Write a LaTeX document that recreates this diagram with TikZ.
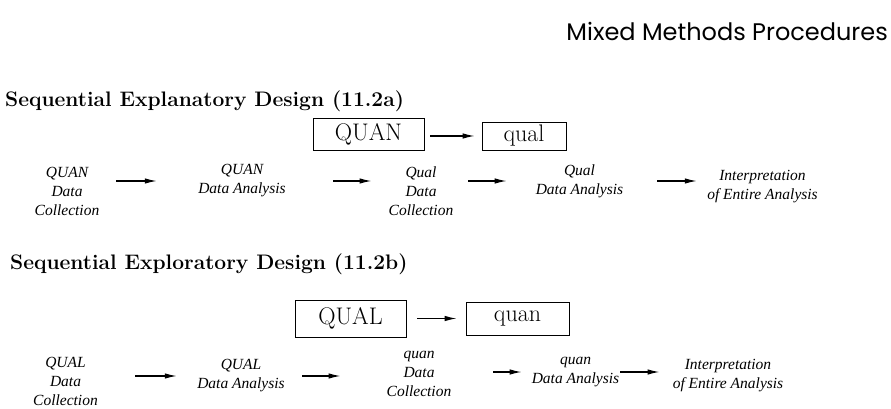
\documentclass[tikz,border=0pt]{standalone}
\usepackage{fontspec}
\newfontfamily\titlefont{Poppins}
\newfontfamily\phasefont{Liberation Serif}
\usetikzlibrary{arrows.meta,positioning}

\tikzset{
  phase/.style={font=\phasefont\fontsize{15.5}{19}\selectfont\itshape, align=center, inner sep=0pt},
  mode/.style={draw, line width=0.8pt, font=\fontsize{24}{26}\selectfont, inner sep=0pt},
  design/.style={font=\fontsize{21}{24}\selectfont\bfseries, inner sep=0pt, anchor=base west},
  flow/.style={->, line width=1.2pt},
}

\begin{document}
\begin{tikzpicture}[x=1pt, y=-1pt, >={Latex[length=12pt,width=5.5pt]}]
\useasboundingbox (0,0) rectangle (891,409);
% page title
\node[font=\titlefont\fontsize{24}{26}\selectfont, inner sep=0pt, anchor=base east] (title) at (888,41) {Mixed Methods Procedures};

% explanatory design
\node[design] (expl) at (5,107) {Sequential Explanatory Design (11.2a)};
\node[mode, minimum width=111pt, minimum height=32pt] (QUANbox) at (368.5,134) {QUAN};
\node[mode, minimum width=84pt, minimum height=28pt] (qualbox) at (524,136) {qual};
\draw[flow, shorten <=6pt, shorten >=7pt] (QUANbox.east |- qualbox.west) -- (qualbox.west);

\node[phase, minimum width=64pt] (quanColl) at (67,191) {QUAN\\Data\\Collection};
\node[phase, minimum width=90pt] (quanAna) at (242,181) {QUAN\\Data Analysis};
\node[phase, minimum width=62pt] (qualColl) at (421,191) {Qual\\Data\\Collection};
\node[phase, minimum width=87pt] (qualAna) at (579.5,181) {Qual\\Data Analysis};
\node[phase, minimum width=111pt] (interA) at (762.5,187) {Interpretation\\of Entire Analysis};
\draw[flow, shorten <=17pt, shorten >=40pt] (quanColl.east |- quanAna.west) -- (quanAna.west);
\draw[flow, shorten <=46pt, shorten >=17pt] (quanAna.east) -- (qualColl.west |- quanAna.east);
\draw[flow, shorten <=15pt, shorten >=29pt] (qualColl.east |- qualAna.west) -- (qualAna.west);
\draw[flow, shorten <=34pt, shorten >=10pt] (qualAna.east) -- (interA.west |- qualAna.east);

% exploratory design
\node[design] (explo) at (10,269) {Sequential Exploratory Design (11.2b)};
\node[mode, minimum width=111pt, minimum height=37pt] (QUALbox) at (350.5,318.5) {QUAL};
\node[mode, minimum width=103pt, minimum height=33pt] (quanbox) at (517.5,318.5) {quan};
\draw[flow, shorten <=11pt, shorten >=9pt] (QUALbox) -- (quanbox);

\node[phase, minimum width=65pt] (QUALColl) at (65.5,381) {QUAL\\Data\\Collection};
\node[phase, minimum width=92pt] (QUALAna) at (241,376) {QUAL\\Data Analysis};
\node[phase, minimum width=62pt] (quanColl2) at (419,374) {quan\\Data\\Collection};
\node[phase, minimum width=87pt] (quanAna2) at (575.5,372) {quan\\Data Analysis};
\node[phase, minimum width=110pt] (interB) at (728,376) {Interpretation\\of Entire Analysis};
\draw[flow, shorten <=37pt, shorten >=18pt] (QUALColl.east |- QUALAna.west) -- (QUALAna.west);
\draw[flow, shorten <=15pt, shorten >=46pt] (QUALAna.east) -- (quanColl2.west |- QUALAna.east);
\draw[flow, shorten <=42pt, shorten >=10pt] (quanColl2.east |- quanAna2.west) -- (quanAna2.west);
\draw[flow, shorten <=1pt, shorten >=13pt] (quanAna2.east) -- (interB.west |- quanAna2.east);
\end{tikzpicture}
\end{document}
